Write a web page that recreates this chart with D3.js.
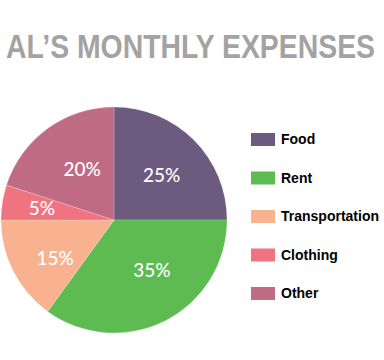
<!DOCTYPE html>
<html><head><meta charset="utf-8">
<script src="https://cdn.jsdelivr.net/npm/d3@7"></script>
<style>body{margin:0;background:#fff}</style>
</head><body>
<svg id="c" width="384" height="360"></svg>
<script>
const categories = ["Food", "Rent", "Transportation", "Clothing", "Other"];
const values = [25, 35, 15, 5, 20];
const labels = ["25%", "35%", "15%", "5%", "20%"];
const colors = ["#6c5b7e", "#5dbb52", "#f8b290", "#f07480", "#c06b84"];
const title = "AL\u2019S MONTHLY EXPENSES";

const svg = d3.select("#c");
svg.append("text").attr("x", 6).attr("y", 58)
  .attr("textLength", 369).attr("lengthAdjust", "spacingAndGlyphs")
  .style("font-family", "'Liberation Sans Narrow', 'Liberation Sans', Arial, sans-serif")
  .style("font-weight", "bold").style("font-size", "34px").attr("fill", "#a3a3a3")
  .text(title);

const cx = 114, cy = 220, r = 113;
const pie = d3.pie().sort(null).value(d => d)(values);
const arc = d3.arc().innerRadius(0).outerRadius(r);
const labelArc = d3.arc().innerRadius(66).outerRadius(66);
// small hand-placement nudges of the slice labels (layout only)
const nudge = [[1, 2], [8, -8], [0, 8], [-7, -1], [7, 3]];
const g = svg.append("g").attr("transform", `translate(${cx},${cy})`);
g.selectAll("path").data(pie).join("path")
  .attr("d", arc).attr("fill", (d, i) => colors[i])
  .attr("stroke", "#fff").attr("stroke-width", 0.4).attr("stroke-opacity", 0.5);
g.selectAll("text").data(pie).join("text")
  .attr("transform", (d, i) => {
    const [x, y] = labelArc.centroid(d);
    return `translate(${x + nudge[i][0]},${y + nudge[i][1]})`;
  })
  .attr("text-anchor", "middle").attr("dy", "0.35em")
  .style("font-family", "Lato, 'Open Sans', sans-serif").style("font-size", "19px")
  .style("font-weight", "500")
  .attr("fill", "#fff").text((d, i) => labels[i]);

const leg = svg.append("g");
const ly = d3.scalePoint().domain(categories).range([139.5, 293.5]);
categories.forEach((c, i) => {
  leg.append("rect").attr("x", 251).attr("y", ly(c) - 6.5).attr("width", 24).attr("height", 13).attr("fill", colors[i]);
  leg.append("text").attr("x", 281).attr("y", ly(c)).attr("dy", "0.35em")
    .style("font-family", "'Liberation Sans', Arial, sans-serif").style("font-weight", "bold").style("font-size", "14px")
    .attr("fill", "#000").text(c);
});
</script>
</body></html>
